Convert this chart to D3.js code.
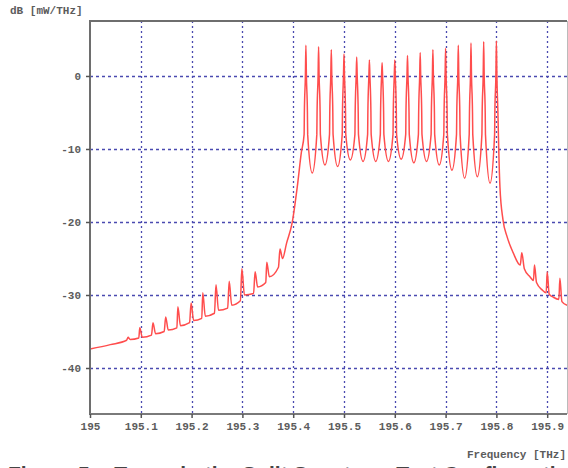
<!DOCTYPE html>
<html>
<head>
<meta charset="utf-8">
<script src="https://cdn.jsdelivr.net/npm/d3@7"></script>
<style>
  body { margin: 0; background: #fff; }
  svg { display: block; }
</style>
</head>
<body>
<div class="chart"></div>
<script>
// spectrum, [THz, dB]
var floorLow = [
  [195.000, -37.4], [195.040, -36.8],
  [195.072, -36.2], [195.075, -35.8], [195.079, -36.1],
  [195.096, -35.9], [195.098, -34.5], [195.103, -35.8],
  [195.121, -35.5], [195.124, -33.8], [195.129, -35.3],
  [195.146, -35.0], [195.149, -33.0], [195.154, -34.8],
  [195.171, -34.5], [195.173, -31.6], [195.178, -34.2],
  [195.196, -33.8], [195.199, -31.1], [195.204, -33.5],
  [195.220, -33.2], [195.222, -29.7], [195.227, -32.9],
  [195.245, -32.5], [195.248, -28.6], [195.253, -32.1],
  [195.271, -31.8], [195.274, -28.1], [195.279, -31.4],
  [195.296, -30.8], [195.299, -26.4], [195.304, -30.0],
  [195.322, -29.8], [195.325, -26.8], [195.330, -28.9],
  [195.346, -28.3], [195.348, -25.5], [195.353, -27.5],
  [195.371, -26.2], [195.374, -23.7], [195.379, -25.0],
  [195.387, -22.9], [195.398, -20.1], [195.408, -15.2], [195.416, -10.5]
];

// each tone: left edge, shoulder, peak, shoulder, right edge, then the trough after it
var toneBand = [
  [195.4215, -8], [195.422, -5], [195.424, 0], [195.425, 4.2], [195.426, 0], [195.428, -5], [195.4285, -8], [195.4375, -13.3],
  [195.4465, -8], [195.447, -5], [195.449, 0], [195.450, 4.0], [195.451, 0], [195.453, -5], [195.4535, -8], [195.4625, -12.2],
  [195.4715, -8], [195.472, -5], [195.474, 0], [195.475, 3.6], [195.476, 0], [195.478, -5], [195.4785, -8], [195.4875, -12.4],
  [195.4965, -8], [195.497, -5], [195.499, 0], [195.500, 3.0], [195.501, 0], [195.503, -5], [195.5035, -8], [195.5125, -11.5],
  [195.5215, -8], [195.522, -5], [195.524, 0], [195.525, 2.6], [195.526, 0], [195.528, -5], [195.5285, -8], [195.5375, -11.7],
  [195.5465, -8], [195.547, -5], [195.549, 0], [195.550, 2.2], [195.551, 0], [195.553, -5], [195.5535, -8], [195.5625, -11.7],
  [195.5715, -8], [195.572, -5], [195.574, 0], [195.575, 1.8], [195.576, 0], [195.578, -5], [195.5785, -8], [195.5875, -11.7],
  [195.5965, -8], [195.597, -5], [195.599, 0], [195.600, 2.2], [195.601, 0], [195.603, -5], [195.6035, -8], [195.6125, -11.4],
  [195.6215, -8], [195.622, -5], [195.624, 0], [195.625, 2.8], [195.626, 0], [195.628, -5], [195.6285, -8], [195.6375, -11.9],
  [195.6465, -8], [195.647, -5], [195.649, 0], [195.650, 3.2], [195.651, 0], [195.653, -5], [195.6535, -8], [195.6625, -11.7],
  [195.6715, -8], [195.672, -5], [195.674, 0], [195.675, 3.6], [195.676, 0], [195.678, -5], [195.6785, -8], [195.6875, -12.2],
  [195.6965, -8], [195.697, -5], [195.699, 0], [195.700, 3.8], [195.701, 0], [195.703, -5], [195.7035, -8], [195.7125, -12.9],
  [195.7215, -8], [195.722, -5], [195.724, 0], [195.725, 4.2], [195.726, 0], [195.728, -5], [195.7285, -8], [195.7375, -14.0],
  [195.7465, -8], [195.747, -5], [195.749, 0], [195.750, 4.5], [195.751, 0], [195.753, -5], [195.7535, -8], [195.7625, -13.8],
  [195.7715, -8], [195.772, -5], [195.774, 0], [195.775, 4.7], [195.776, 0], [195.778, -5], [195.7785, -8], [195.7875, -14.7],
  [195.7965, -8], [195.797, -5], [195.799, 0], [195.800, 4.8]
];

var floorHigh = [
  [195.801, 0], [195.803, -5], [195.8045, -9.7], [195.807, -15.2], [195.813, -19.7], [195.821, -22.0],
  [195.833, -24.2], [195.847, -25.9], [195.850, -24.2], [195.855, -26.4],
  [195.866, -27.5], [195.873, -28.0], [195.875, -25.9], [195.879, -28.3],
  [195.890, -29.3], [195.898, -29.7], [195.900, -26.8], [195.904, -29.9],
  [195.912, -30.3], [195.923, -30.6], [195.925, -27.7], [195.929, -30.9],
  [195.939, -31.4]
];

var xTicks = [195, 195.1, 195.2, 195.3, 195.4, 195.5, 195.6, 195.7, 195.8, 195.9];
var xTickLabels = ['195', '195.1', '195.2', '195.3', '195.4', '195.5', '195.6', '195.7', '195.8', '195.9'];
var yTicks = [0, -10, -20, -30, -40];

var W = 568, H = 468;
var plot = { left: 90, right: 567, top: 21, bottom: 414 };
var mono = '"Liberation Mono", "DejaVu Sans Mono", monospace';

var svg = d3.select('.chart').append('svg').attr('width', W).attr('height', H);

var x = d3.scaleLinear().domain([195, 195.939]).range([plot.left, plot.right]);
var y = d3.scaleLinear().domain([7.53, -46.3]).range([plot.top, plot.bottom]);

// dotted grid
svg.append('g').selectAll('line.vg')
  .data(xTicks.slice(1))
  .enter().append('line')
  .attr('x1', function (d) { return Math.round(x(d)) + 0.5; })
  .attr('x2', function (d) { return Math.round(x(d)) + 0.5; })
  .attr('y1', plot.top).attr('y2', plot.bottom)
  .attr('stroke', '#4a4ab0').attr('stroke-width', 1.3)
  .attr('stroke-dasharray', '2,3');

svg.append('g').selectAll('line.hg')
  .data(yTicks)
  .enter().append('line')
  .attr('x1', plot.left).attr('x2', plot.right)
  .attr('y1', function (d) { return Math.round(y(d)) + 0.5; })
  .attr('y2', function (d) { return Math.round(y(d)) + 0.5; })
  .attr('stroke', '#4a4ab0').attr('stroke-width', 1.3)
  .attr('stroke-dasharray', '3,3');

// trace
var line = d3.line()
  .x(function (d) { return x(d[0]); })
  .y(function (d) { return y(d[1]); })
  .curve(d3.curveMonotoneX);

svg.append('path')
  .datum(floorLow.concat(toneBand, floorHigh))
  .attr('d', line)
  .attr('fill', 'none')
  .attr('stroke', '#ff4d4d')
  .attr('stroke-width', 1.5);

// frame
svg.append('line').attr('x1', plot.left).attr('x2', plot.right).attr('y1', plot.top).attr('y2', plot.top)
  .attr('stroke', '#6e6e6e').attr('stroke-width', 2);
svg.append('line').attr('x1', plot.left).attr('x2', plot.left).attr('y1', plot.top - 1).attr('y2', plot.bottom + 1)
  .attr('stroke', '#6e6e6e').attr('stroke-width', 2);
svg.append('line').attr('x1', plot.left).attr('x2', plot.right).attr('y1', plot.bottom).attr('y2', plot.bottom)
  .attr('stroke', '#7a7a7a').attr('stroke-width', 2);
svg.append('line').attr('x1', plot.right + 0.5).attr('x2', plot.right + 0.5).attr('y1', plot.top).attr('y2', plot.bottom)
  .attr('stroke', '#bbbbbb').attr('stroke-width', 1);

// axes
var yAxis = svg.append('g')
  .attr('transform', 'translate(' + plot.left + ',0)')
  .call(d3.axisLeft(y).tickValues(yTicks).tickSize(4).tickPadding(5)
    .tickFormat(function (d) { return String(d); }));

var xAxis = svg.append('g')
  .attr('transform', 'translate(0,' + plot.bottom + ')')
  .call(d3.axisBottom(x).tickValues(xTicks).tickSize(4).tickPadding(4)
    .tickFormat(function (d, i) { return xTickLabels[i]; }));

[yAxis, xAxis].forEach(function (g) {
  g.select('.domain').remove();
  g.selectAll('.tick line').attr('stroke', '#555').attr('stroke-width', 1.5);
  g.selectAll('.tick text')
    .attr('fill', '#5c5c5c').style('font-family', mono).style('font-size', '11px')
    .style('font-weight', 'bold');
});

// titles
svg.append('text').attr('x', 10).attr('y', 14)
  .attr('fill', '#5c5c5c').style('font-family', mono).style('font-size', '11px').style('font-weight', 'bold')
  .text('dB [mW/THz]');

svg.append('text').attr('x', 566).attr('y', 458).attr('text-anchor', 'end')
  .attr('fill', '#5c5c5c').style('font-family', mono).style('font-size', '11px').style('font-weight', 'bold')
  .text('Frequency [THz]');

// caption, cut off by the bottom edge
svg.append('text').attr('x', 8).attr('y', 481)
  .attr('fill', '#444').style('font-family', '"Liberation Sans", Arial, sans-serif')
  .style('font-size', '21px').style('font-weight', 'bold')
  .text('Figure 5a: Tones in the Split Spectrum Test Configuration');
</script>
</body>
</html>
